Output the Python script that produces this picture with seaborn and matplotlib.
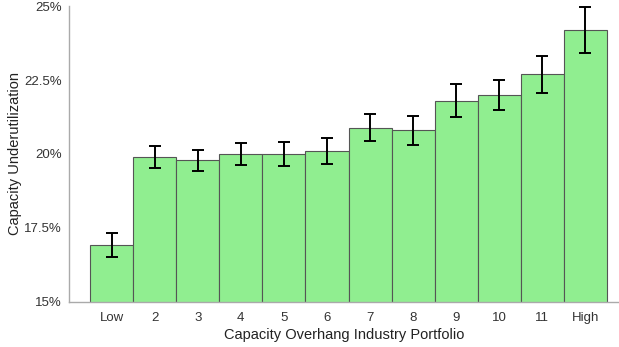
import matplotlib
matplotlib.use("Agg")
import matplotlib.pyplot as plt
import numpy as np
import pandas as pd
import seaborn as sns

portfolios = ["Low", "2", "3", "4", "5", "6", "7", "8", "9", "10", "11", "High"]
underutilization = [16.92, 19.90, 19.79, 20.00, 20.00, 20.10, 20.89, 20.80, 21.80, 21.99, 22.69, 24.19]
std_error = [0.40, 0.36, 0.36, 0.37, 0.40, 0.43, 0.46, 0.50, 0.55, 0.52, 0.63, 0.78]
y_ticks = [15, 17.5, 20, 22.5, 25]
y_tick_labels = ["15%", "17.5%", "20%", "22.5%", "25%"]

df = pd.DataFrame({"portfolio": portfolios, "value": underutilization})

sns.set_style("white")
plt.rcParams["font.family"] = ["Liberation Sans", "DejaVu Sans"]

fig = plt.figure(figsize=(6.19, 3.47), dpi=100)
ax = fig.add_axes([0.1115, 0.1297, 0.8885, 0.8530])

sns.barplot(data=df, x="portfolio", y="value", order=portfolios,
            color="#90EE90", saturation=1, width=1.0,
            edgecolor="#555555", linewidth=0.8, ax=ax)
ax.errorbar(np.arange(len(portfolios)), underutilization, yerr=std_error,
            fmt="none", ecolor="black", elinewidth=1.4, capsize=4.5, capthick=1.4)

ax.set_ylim(15, 25)
ax.set_xlim(-0.99, 11.78)
ax.set_yticks(y_ticks)
ax.set_yticklabels(y_tick_labels)
ax.set_xlabel("Capacity Overhang Industry Portfolio", fontsize=10.5, color="#222222", labelpad=3)
ax.set_ylabel("Capacity Underutilization", fontsize=10.5, color="#222222", labelpad=2)
ax.tick_params(axis="y", length=3, color="#aaaaaa", labelsize=9.5, labelcolor="#333333", pad=2)
ax.tick_params(axis="x", length=0, labelsize=9.5, labelcolor="#333333", pad=7)
for side in ["top", "right"]:
    ax.spines[side].set_visible(False)
for side in ["left", "bottom"]:
    ax.spines[side].set_color("#aaaaaa")
    ax.spines[side].set_linewidth(1.0)

fig.savefig("out.png", dpi=100)
